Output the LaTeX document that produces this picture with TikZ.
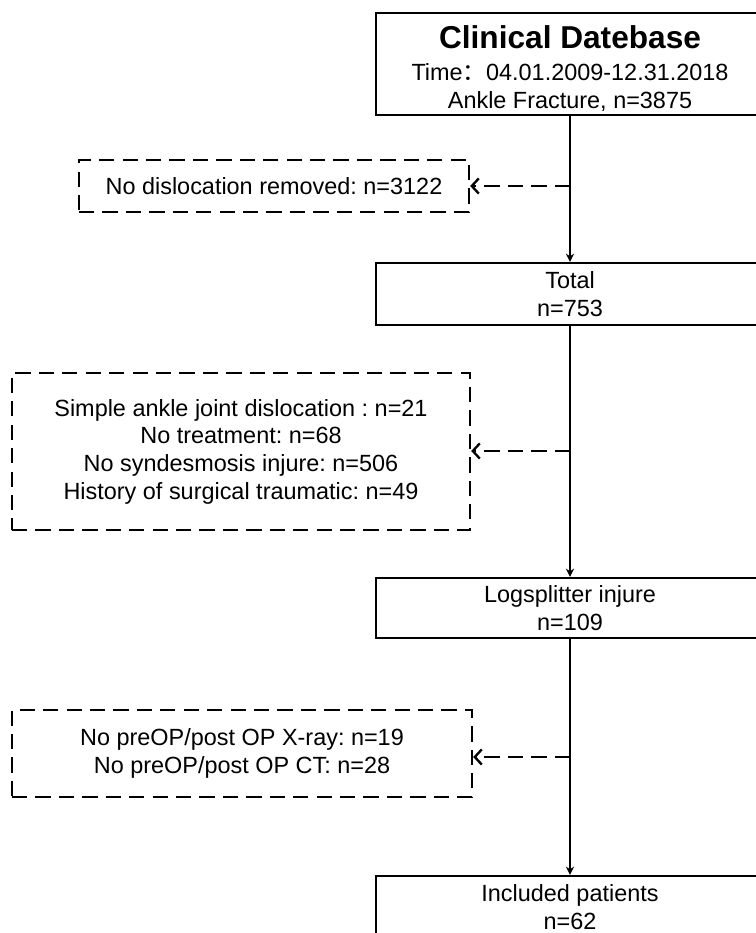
\documentclass[tikz,border=0pt]{standalone}
\usepackage{fontspec}
\setmainfont{Liberation Sans}
\newfontfamily\cjk{Noto Sans CJK SC}
\usetikzlibrary{positioning,arrows.meta}
\tikzset{main node/.style={rectangle,draw,line width=2pt,minimum width=11.64cm,inner sep=0pt,align=center,font=\fontsize{20}{23.6}\selectfont},
	removed node/.style={rectangle,draw,line width=2pt,dash pattern=on 13pt off 7pt,inner sep=0pt,align=center,font=\fontsize{20}{23.6}\selectfont},
	flow line/.style={line width=2pt,-{Stealth[length=7pt,width=7pt]}},
	removed line/.style={line width=2pt,dash pattern=on 13pt off 7pt,-{Straight Barb[length=6pt,width=13pt]}},}
\frenchspacing

\begin{document}
\begin{tikzpicture}[x=0.03cm,y=-0.03cm]
	\useasboundingbox (0,0) rectangle (755,933);

	% main flow
	\node[main node,minimum height=3.06cm] (1) at (570,64) {\rule{0pt}{27pt}{\fontsize{27}{32}\selectfont\bfseries Clinical Datebase}\\[3.6pt]Time{\cjk ：}04.01.2009-12.31.2018\\Ankle Fracture, n=3875};
	\node[main node,minimum height=1.86cm] (2) at (570,294) {Total\\n=753};
	\node[main node,minimum height=1.8cm] (3) at (570,608) {Logsplitter injure\\n=109};
	\node[main node,minimum height=1.86cm] (4) at (570,907) {Included patients\\n=62};

	% removed cases
	\node[removed node,minimum width=11.7cm,minimum height=1.56cm] (5) at (274,186) {No dislocation removed: n=3122};
	\node[removed node,minimum width=13.74cm,minimum height=4.71cm] (6) at (241,451.5) {Simple ankle joint dislocation : n=21\\No treatment: n=68\\No syndesmosis injure: n=506\\History of surgical traumatic: n=49};
	\node[removed node,minimum width=13.8cm,minimum height=2.61cm] (7) at (242,753.5) {No preOP/post OP X-ray: n=19\\No preOP/post OP CT: n=28};

	\coordinate (a) at (570,186);
	\coordinate (b) at (570,451);
	\coordinate (c) at (570,757);

	\path
	(1) edge[flow line] (2)
	(2) edge[flow line] (3)
	(3) edge[flow line] (4)
	;
	\path
	(a) edge[removed line] (a -| 5.east)
	(b) edge[removed line] (b -| 6.east)
	(c) edge[removed line] (c -| 7.east)
	;
\end{tikzpicture}
\end{document}
